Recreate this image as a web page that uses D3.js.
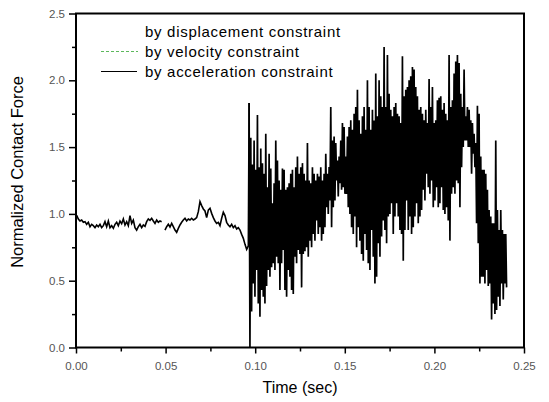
<!DOCTYPE html>
<html>
<head>
<meta charset="utf-8">
<script src="https://cdn.jsdelivr.net/npm/d3@7"></script>
<style>
  html, body { margin: 0; padding: 0; background: #fff; }
  svg { display: block; }
</style>
</head>
<body>
<div id="chart"></div>
<script>
// ---------------- data ----------------
const xTicks = [0.00, 0.05, 0.10, 0.15, 0.20, 0.25];
const yTicks = [0.0, 0.5, 1.0, 1.5, 2.0, 2.5];
const legendLabels = ["by displacement constraint", "by velocity constraint", "by acceleration constraint"];
const axisTitles = { x: "Time (sec)", y: "Normalized Contact Force" };

// quiet part (t = quietT0 + i*quietStep), null = short break in the curve
const quietT0 = 0.00037, quietStep = 0.00093;
const quietForce = [
  0.99, 0.962, 0.947, 0.954, 0.937, 0.942, 0.922, 0.937, 0.904, 0.922,
  0.912, 0.897, 0.917, 0.904, 0.922, 0.897, 0.912, 0.942, 0.904, 0.947,
  0.897, 0.912, 0.892, 0.922, 0.937, 0.912, 0.947, 0.927, 0.962, 0.917,
  0.942, 0.912, 0.987, 0.929, 0.954, 0.897, 0.879, 0.904, 0.922, 0.897,
  0.917, 0.907, 0.942, 0.962, 0.952, 0.967, 0.947, 0.929, 0.954, 0.937,
  0.947, 0.942, null, 0.879, 0.904, 0.922, 0.902, 0.929, 0.904, 0.879,
  0.862, 0.892, 0.917, 0.937, 0.954, 0.967, 0.947, 0.962, 0.954, 0.967,
  0.954, 0.962, 0.972, 1.017, 1.092, 1.062, 1.037, 1.022, 0.972, 1.029,
  1.042, 1.004, 0.972, 0.947, 0.929, 0.937, 0.912, 0.967, 1.012, 0.987,
  0.937, 0.917, 0.904, 0.922, 0.897, 0.912, 0.887, 0.897, 0.879, 0.847,
  0.817, 0.772, 0.735, 0.76
];

// oscillating part: per time column, upper and lower excursion
const burstT0 = 0.0966, burstStep = 0.00093;
const burstTop = [
  1.83,
  1.57, 1.37, 1.55, 1.33, 1.74, 1.35, 1.49, 1.38, 1.30, 1.60,
  1.20, 1.45, 1.34, 1.08, 1.23, 1.55, 1.40, 1.25, 1.18, 1.34,
  1.33, 1.18, 1.20, 1.23, 1.30, 1.33, 1.20, 1.35, 1.43, 1.30,
  1.35, 1.38, 1.30, 1.25, 1.53, 1.25, 1.23, 1.35, 1.30, 1.25,
  1.30, 1.28, 1.35, 1.25, 1.30, 1.45, 1.30, 1.35, 1.80, 1.55,
  1.58, 1.53, 1.40, 1.43, 1.55, 1.68, 1.65, 1.43, 1.58, 1.65,
  1.70, 1.63, 1.75, 1.80, 1.93, 1.70, 1.60, 1.73, 1.80, 1.63,
  2.00, 1.80, 1.63, 1.78, 1.70, 2.05, 1.73, 2.00, 1.88, 1.80,
  2.25, 1.80, 2.19, 1.90, 1.78, 1.73, 1.80, 1.83, 1.75, 1.73,
  1.68, 2.18, 1.88, 1.93, 1.95, 2.00, 2.03, 2.10, 2.08, 1.95,
  1.88, 1.78, 1.80, 1.75, 1.70, 1.78, 1.68, 2.01, 1.80, 1.95,
  1.68, 1.70, 1.85, 1.87, 1.88, 1.78, 1.83, 1.75, 1.70, 2.19,
  1.80, 1.85, 2.05, 2.14, 2.19, 2.13, 1.90, 1.80, 2.08, 1.73,
  1.80, 1.78, 1.70, 1.68, 1.60, 1.53, 1.81, 1.75, 1.43, 1.33,
  1.33, 1.30, 1.18, 1.03, 0.98, 0.93, 0.93, 1.55, 1.03, 0.88,
  1.03, 0.88, 0.85, 0.85
];
const burstBottom = [
  0.00,
  0.27, 0.48, 0.38, 0.58, 0.33, 0.23, 0.43, 0.38, 0.33, 0.46,
  0.58, 0.53, 0.60, 0.63, 0.58, 0.68, 0.63, 0.43, 0.63, 0.73,
  0.43, 0.38, 0.58, 0.53, 0.43, 0.40, 0.68, 0.63, 0.73, 0.70,
  0.45, 0.70, 0.72, 0.75, 0.68, 0.80, 0.75, 0.85, 0.80, 0.95,
  0.85, 0.90, 0.80, 0.85, 0.90, 1.05, 1.00, 1.10, 0.90, 1.05,
  1.10, 1.25, 1.13, 1.23, 1.18, 1.20, 1.15, 1.15, 1.05, 1.00,
  0.90, 0.85, 0.98, 0.75, 0.90, 0.80, 0.70, 0.65, 0.85, 0.73,
  0.63, 0.58, 0.88, 0.68, 0.48, 0.53, 0.78, 0.68, 0.83, 0.95,
  0.88, 0.78, 0.98, 1.00, 1.08, 0.85, 0.98, 1.08, 0.98, 0.88,
  0.85, 0.65, 0.88, 1.10, 0.88, 0.98, 0.85, 0.90, 0.98, 1.08,
  0.93, 0.98, 1.03, 1.18, 1.10, 1.30, 1.20, 1.15, 1.25, 1.05,
  1.10, 1.20, 1.05, 1.08, 1.20, 1.03, 1.00, 1.05, 0.95, 0.80,
  1.15, 1.20, 1.15, 1.25, 1.23, 1.05, 1.35, 1.50, 1.55, 1.55,
  1.50, 1.50, 1.30, 1.45, 1.35, 0.93, 0.78, 0.48, 0.53, 0.53,
  0.48, 0.58, 0.46, 0.48, 0.21, 0.33, 0.25, 0.28, 0.38, 0.31,
  0.48, 0.36, 0.48, 0.45
];

// ---------------- build the series ----------------
const quiet = quietForce.map((v, i) => ({ t: quietT0 + i * quietStep, v }));
const burst = [];
burstTop.forEach((top, j) => {
  burst.push({ t: burstT0 + j * burstStep, v: top });
  burst.push({ t: burstT0 + (j + 0.5) * burstStep, v: burstBottom[j] });
});

// ---------------- drawing ----------------
const W = 549, H = 402;
const M = { left: 76, right: 524, top: 13.5, bottom: 347.5 };
const FONT = "'Liberation Sans', Arial, Helvetica, sans-serif";

const svg = d3.select("#chart").append("svg")
  .attr("width", W).attr("height", H)
  .style("font-family", FONT);

const x = d3.scaleLinear().domain([0, 0.25]).range([M.left, M.right]);
const y = d3.scaleLinear().domain([0, 2.5]).range([M.bottom, M.top]);

const line = d3.line()
  .defined(d => d.v !== null)
  .x(d => x(d.t)).y(d => y(d.v));

// quiet part (thin jittery trace)
svg.append("path")
  .datum(quiet.concat([burst[0]]))
  .attr("fill", "none")
  .attr("stroke", "#000")
  .attr("stroke-width", 1.6)
  .attr("d", line);

// oscillating part (dense, nearly solid)
svg.append("path")
  .datum(burst)
  .attr("fill", "none")
  .attr("stroke", "#000")
  .attr("stroke-width", 1.7)
  .attr("stroke-linejoin", "bevel")
  .attr("d", line);

// minor ticks
const xMinor = d3.range(0.025, 0.25, 0.05);
const yMinor = d3.range(0.25, 2.5, 0.5);

svg.append("g")
  .attr("transform", `translate(0,${M.bottom})`)
  .call(d3.axisBottom(x).tickValues(xMinor).tickSize(4).tickFormat(""))
  .call(g => g.select(".domain").remove())
  .call(g => g.selectAll("line").attr("stroke-width", 1.5));

svg.append("g")
  .attr("transform", `translate(${M.left},0)`)
  .call(d3.axisLeft(y).tickValues(yMinor).tickSize(4).tickFormat(""))
  .call(g => g.select(".domain").remove())
  .call(g => g.selectAll("line").attr("stroke-width", 1.5));

// major axes
const xAxis = svg.append("g")
  .attr("transform", `translate(0,${M.bottom})`)
  .call(d3.axisBottom(x).tickValues(xTicks).tickSize(6).tickPadding(8).tickFormat(d3.format(".2f")));
xAxis.select(".domain").remove();
xAxis.selectAll("line").attr("stroke-width", 1.5);
xAxis.selectAll("text").attr("font-size", 11.5).attr("fill", "#555").attr("font-family", FONT);

const yAxis = svg.append("g")
  .attr("transform", `translate(${M.left},0)`)
  .call(d3.axisLeft(y).tickValues(yTicks).tickSize(7).tickPadding(4).tickFormat(d3.format(".1f")));
yAxis.select(".domain").remove();
yAxis.selectAll("line").attr("stroke-width", 1.5);
yAxis.selectAll("text").attr("font-size", 11.5).attr("fill", "#555").attr("font-family", FONT);

// frame
svg.append("rect")
  .attr("x", M.left).attr("y", M.top)
  .attr("width", M.right - M.left).attr("height", M.bottom - M.top)
  .attr("fill", "none").attr("stroke", "#000").attr("stroke-width", 2);

// axis titles
svg.append("text")
  .attr("x", 300).attr("y", 393)
  .attr("text-anchor", "middle")
  .attr("font-size", 16).attr("fill", "#000")
  .text(axisTitles.x);

svg.append("text")
  .attr("transform", "translate(23,172) rotate(-90)")
  .attr("text-anchor", "middle")
  .attr("font-size", 16.5).attr("fill", "#000")
  .text(axisTitles.y);

// legend
const legend = svg.append("g");
const legendRows = [37, 57, 77];
legendLabels.forEach((lab, i) => {
  legend.append("text")
    .attr("x", 145).attr("y", legendRows[i])
    .attr("font-size", 15).attr("letter-spacing", 0.7)
    .attr("fill", "#000")
    .text(lab);
});
legend.append("line")
  .attr("x1", 101).attr("x2", 138).attr("y1", 51.5).attr("y2", 51.5)
  .attr("stroke", "#5cb85c").attr("stroke-width", 1.2).attr("stroke-dasharray", "3,2");
legend.append("line")
  .attr("x1", 101).attr("x2", 137).attr("y1", 71.5).attr("y2", 71.5)
  .attr("stroke", "#000").attr("stroke-width", 1.2);
</script>
</body>
</html>
